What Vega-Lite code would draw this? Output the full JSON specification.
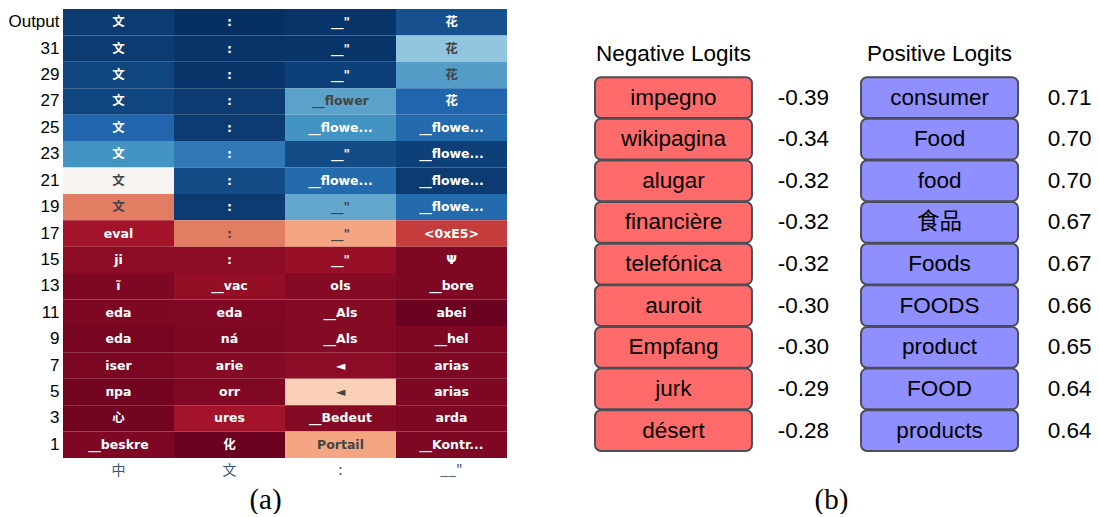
{
  "$schema": "https://vega.github.io/schema/vega-lite/v6.json",
  "padding": {"left": 7, "top": 9, "right": 0, "bottom": 0},
  "background": "white",
  "spacing": 86,
  "config": {"view": {"stroke": null}},
  "datasets": {
    "cells": [
      {"layer": "Output", "input": "中", "token": "文", "p": 0.98},
      {"layer": "Output", "input": "文", "token": ":", "p": 1.0},
      {"layer": "Output", "input": ":", "token": "__\"", "p": 0.99},
      {"layer": "Output", "input": "__\"", "token": "花", "p": 0.94},
      {"layer": "31", "input": "中", "token": "文", "p": 0.98},
      {"layer": "31", "input": "文", "token": ":", "p": 0.99},
      {"layer": "31", "input": ":", "token": "__\"", "p": 0.99},
      {"layer": "31", "input": "__\"", "token": "花", "p": 0.7},
      {"layer": "29", "input": "中", "token": "文", "p": 0.96},
      {"layer": "29", "input": "文", "token": ":", "p": 0.99},
      {"layer": "29", "input": ":", "token": "__\"", "p": 0.97},
      {"layer": "29", "input": "__\"", "token": "花", "p": 0.78},
      {"layer": "27", "input": "中", "token": "文", "p": 0.96},
      {"layer": "27", "input": "文", "token": ":", "p": 0.98},
      {"layer": "27", "input": ":", "token": "__flower", "p": 0.77},
      {"layer": "27", "input": "__\"", "token": "花", "p": 0.9},
      {"layer": "25", "input": "中", "token": "文", "p": 0.9},
      {"layer": "25", "input": "文", "token": ":", "p": 0.98},
      {"layer": "25", "input": ":", "token": "__flowe...", "p": 0.8},
      {"layer": "25", "input": "__\"", "token": "__flowe...", "p": 0.89},
      {"layer": "23", "input": "中", "token": "文", "p": 0.8},
      {"layer": "23", "input": "文", "token": ":", "p": 0.86},
      {"layer": "23", "input": ":", "token": "__\"", "p": 0.95},
      {"layer": "23", "input": "__\"", "token": "__flowe...", "p": 0.97},
      {"layer": "21", "input": "中", "token": "文", "p": 0.49},
      {"layer": "21", "input": "文", "token": ":", "p": 0.95},
      {"layer": "21", "input": ":", "token": "__flowe...", "p": 0.89},
      {"layer": "21", "input": "__\"", "token": "__flowe...", "p": 0.98},
      {"layer": "19", "input": "中", "token": "文", "p": 0.24},
      {"layer": "19", "input": "文", "token": ":", "p": 0.98},
      {"layer": "19", "input": ":", "token": "__\"", "p": 0.76},
      {"layer": "19", "input": "__\"", "token": "__flowe...", "p": 0.89},
      {"layer": "17", "input": "中", "token": "eval", "p": 0.08},
      {"layer": "17", "input": "文", "token": ":", "p": 0.24},
      {"layer": "17", "input": ":", "token": "__\"", "p": 0.3},
      {"layer": "17", "input": "__\"", "token": "<0xE5>", "p": 0.15},
      {"layer": "15", "input": "中", "token": "ji", "p": 0.05},
      {"layer": "15", "input": "文", "token": ":", "p": 0.05},
      {"layer": "15", "input": ":", "token": "__\"", "p": 0.065},
      {"layer": "15", "input": "__\"", "token": "Ψ", "p": 0.03},
      {"layer": "13", "input": "中", "token": "ĩ", "p": 0.03},
      {"layer": "13", "input": "文", "token": "__vac", "p": 0.06},
      {"layer": "13", "input": ":", "token": "ols", "p": 0.04},
      {"layer": "13", "input": "__\"", "token": "__bore", "p": 0.03},
      {"layer": "11", "input": "中", "token": "eda", "p": 0.03},
      {"layer": "11", "input": "文", "token": "eda", "p": 0.035},
      {"layer": "11", "input": ":", "token": "__Als", "p": 0.04},
      {"layer": "11", "input": "__\"", "token": "abei", "p": 0.005},
      {"layer": "9", "input": "中", "token": "eda", "p": 0.02},
      {"layer": "9", "input": "文", "token": "ná", "p": 0.03},
      {"layer": "9", "input": ":", "token": "__Als", "p": 0.04},
      {"layer": "9", "input": "__\"", "token": "__hel", "p": 0.03},
      {"layer": "7", "input": "中", "token": "iser", "p": 0.025},
      {"layer": "7", "input": "文", "token": "arie", "p": 0.04},
      {"layer": "7", "input": ":", "token": "◄", "p": 0.05},
      {"layer": "7", "input": "__\"", "token": "arias", "p": 0.03},
      {"layer": "5", "input": "中", "token": "пра", "p": 0.015},
      {"layer": "5", "input": "文", "token": "orr", "p": 0.035},
      {"layer": "5", "input": ":", "token": "◄", "p": 0.38},
      {"layer": "5", "input": "__\"", "token": "arias", "p": 0.03},
      {"layer": "3", "input": "中", "token": "心", "p": 0.015},
      {"layer": "3", "input": "文", "token": "ures", "p": 0.08},
      {"layer": "3", "input": ":", "token": "__Bedeut", "p": 0.04},
      {"layer": "3", "input": "__\"", "token": "arda", "p": 0.03},
      {"layer": "1", "input": "中", "token": "__beskre", "p": 0.03},
      {"layer": "1", "input": "文", "token": "化", "p": 0.005},
      {"layer": "1", "input": ":", "token": "Portail", "p": 0.3},
      {"layer": "1", "input": "__\"", "token": "__Kontr...", "p": 0.03}
    ],
    "logits": [
      {"group": "Negative Logits", "rank": 1, "token": "impegno", "value": "-0.39"},
      {"group": "Negative Logits", "rank": 2, "token": "wikipagina", "value": "-0.34"},
      {"group": "Negative Logits", "rank": 3, "token": "alugar", "value": "-0.32"},
      {"group": "Negative Logits", "rank": 4, "token": "financière", "value": "-0.32"},
      {"group": "Negative Logits", "rank": 5, "token": "telefónica", "value": "-0.32"},
      {"group": "Negative Logits", "rank": 6, "token": "auroit", "value": "-0.30"},
      {"group": "Negative Logits", "rank": 7, "token": "Empfang", "value": "-0.30"},
      {"group": "Negative Logits", "rank": 8, "token": "jurk", "value": "-0.29"},
      {"group": "Negative Logits", "rank": 9, "token": "désert", "value": "-0.28"},
      {"group": "Positive Logits", "rank": 1, "token": "consumer", "value": "0.71"},
      {"group": "Positive Logits", "rank": 2, "token": "Food", "value": "0.70"},
      {"group": "Positive Logits", "rank": 3, "token": "food", "value": "0.70"},
      {"group": "Positive Logits", "rank": 4, "token": "食品", "value": "0.67"},
      {"group": "Positive Logits", "rank": 5, "token": "Foods", "value": "0.67"},
      {"group": "Positive Logits", "rank": 6, "token": "FOODS", "value": "0.66"},
      {"group": "Positive Logits", "rank": 7, "token": "product", "value": "0.65"},
      {"group": "Positive Logits", "rank": 8, "token": "FOOD", "value": "0.64"},
      {"group": "Positive Logits", "rank": 9, "token": "products", "value": "0.64"}
    ]
  },
  "hconcat": [
    {
      "width": 444,
      "height": 449,
      "data": {"name": "cells"},
      "encoding": {
        "x": {
          "field": "input", "type": "nominal",
          "sort": ["中", "文", ":", "__\""],
          "axis": {
            "orient": "bottom", "domain": false, "ticks": false, "labelPadding": 5,
            "labelFont": "Noto Sans CJK SC", "labelFontSize": 14, "labelColor": "#3b5380", "labelAngle": 0,
            "title": "(a)", "titleFont": "Liberation Serif", "titleFontSize": 29, "titleFontWeight": "normal",
            "titleColor": "black", "titleX": 202, "titleY": 50, "titleBaseline": "alphabetic", "titleAlign": "center"
          }
        },
        "y": {
          "field": "layer", "type": "nominal",
          "sort": ["Output", "31", "29", "27", "25", "23", "21", "19", "17", "15", "13", "11", "9", "7", "5", "3", "1"],
          "axis": {
            "domain": false, "ticks": false, "labelPadding": 4,
            "labelFont": "Liberation Sans", "labelFontSize": 17, "labelColor": "black", "title": null
          }
        }
      },
      "layer": [
        {
          "mark": {"type": "rect"},
          "encoding": {
            "color": {
              "field": "p", "type": "quantitative",
              "scale": {
                "domain": [0, 0.1, 0.2, 0.3, 0.4, 0.5, 0.6, 0.7, 0.8, 0.9, 1],
                "range": ["#67001f", "#b2182b", "#d6604d", "#f4a582", "#fddbc7", "#f7f7f7", "#d1e5f0", "#92c5de", "#4393c3", "#2166ac", "#053061"],
                "interpolate": "rgb"
              },
              "legend": null
            }
          }
        },
        {
          "mark": {"type": "text", "font": "DejaVu Sans, Noto Sans CJK SC", "fontWeight": "bold", "fontSize": 12.5},
          "encoding": {
            "text": {"field": "token"},
            "color": {"condition": {"test": "datum.p > 0.2 && datum.p < 0.785", "value": "#444444"}, "value": "white"}
          }
        }
      ]
    },
    {
      "width": 423,
      "height": 442,
      "data": {"name": "logits"},
      "encoding": {
        "y": {"field": "rank", "type": "ordinal", "scale": {"paddingInner": 0.02, "paddingOuter": 0.819, "align": 1}, "axis": null}
      },
      "layer": [
        {
          "mark": {"type": "rect", "cornerRadius": 6, "stroke": "#4a4e55", "strokeWidth": 2},
          "encoding": {
            "x": {
              "field": "group", "type": "nominal", "sort": ["Negative Logits", "Positive Logits"],
              "scale": {"paddingInner": 0.41, "paddingOuter": 0},
              "axis": {
                "orient": "top", "domain": false, "ticks": false, "tickSize": 0, "labelPadding": 0, "offset": -51,
                "labelFont": "Liberation Sans", "labelFontSize": 22.5, "labelColor": "black",
                "labelBaseline": "alphabetic", "labelAngle": 0, "title": null
              }
            },
            "color": {"field": "group", "type": "nominal", "scale": {"domain": ["Negative Logits", "Positive Logits"], "range": ["#ff6b6b", "#8f8fff"]}, "legend": null}
          }
        },
        {
          "mark": {"type": "text", "font": "Liberation Sans, Noto Sans CJK SC", "fontSize": 22.5, "color": "black"},
          "encoding": {
            "x": {"field": "group", "type": "nominal", "sort": ["Negative Logits", "Positive Logits"], "scale": {"paddingInner": 0.41, "paddingOuter": 0}, "axis": null},
            "text": {"field": "token"}
          }
        },
        {
          "mark": {"type": "text", "font": "Liberation Sans", "fontSize": 22.5, "color": "black", "dx": 130},
          "encoding": {
            "x": {
              "field": "group", "type": "nominal", "sort": ["Negative Logits", "Positive Logits"],
              "scale": {"paddingInner": 0.41, "paddingOuter": 0},
              "axis": {
                "orient": "bottom", "domain": false, "ticks": false, "labels": false,
                "title": "(b)", "titleFont": "Liberation Serif", "titleFontSize": 29, "titleFontWeight": "normal",
                "titleColor": "black", "titleX": 236, "titleY": 57, "titleBaseline": "alphabetic", "titleAlign": "center"
              }
            },
            "text": {"field": "value"}
          }
        }
      ],
      "resolve": {"axis": {"x": "independent"}}
    }
  ]
}
